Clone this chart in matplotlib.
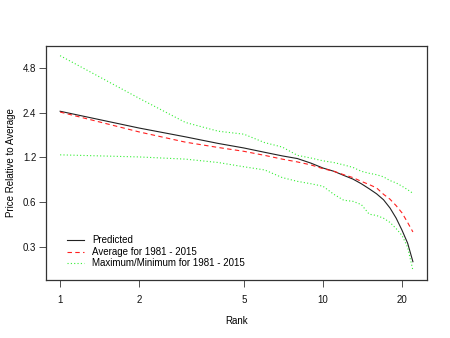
import matplotlib
matplotlib.use("Agg")
import matplotlib.pyplot as plt
from matplotlib.ticker import FixedLocator, NullLocator
import numpy as np

plt.rcParams['font.family'] = ['Liberation Sans', 'DejaVu Sans']

rank = [1, 2, 3, 4, 5, 6, 7, 8, 9, 10, 11, 12, 13, 14, 15, 16, 17, 18, 19, 20, 21, 22]
predicted = [2.45, 1.89, 1.65, 1.49, 1.39, 1.30, 1.23, 1.18, 1.10, 1.02, 0.97, 0.91,
             0.86, 0.80, 0.74, 0.685, 0.625, 0.55, 0.47, 0.39, 0.32, 0.24]
average = [2.42, 1.78, 1.52, 1.40, 1.32, 1.24, 1.17, 1.12, 1.07, 1.01, 0.97, 0.92,
           0.88, 0.83, 0.79, 0.75, 0.68, 0.63, 0.57, 0.51, 0.44, 0.38]
maximum = [5.78, 2.99, 2.06, 1.80, 1.72, 1.51, 1.41, 1.24, 1.19, 1.14, 1.11, 1.07,
           1.03, 0.97, 0.94, 0.92, 0.89, 0.84, 0.81, 0.77, 0.73, 0.69]
minimum = [1.25, 1.21, 1.17, 1.11, 1.04, 0.99, 0.88, 0.83, 0.80, 0.77, 0.68, 0.62,
           0.61, 0.58, 0.50, 0.49, 0.47, 0.44, 0.40, 0.36, 0.30, 0.21]

x_ticks = [1, 2, 5, 10, 20]
y_ticks = [0.3, 0.6, 1.2, 2.4, 4.8]
legend_labels = ["Predicted", "Average for 1981 - 2015", "Maximum/Minimum for 1981 - 2015"]

fig = plt.figure(figsize=(4.5, 3.38), dpi=100)
ax = fig.add_axes([46/450, 1-280/338, (427-46)/450, (280-46)/338])

lw = 0.8
l1, = ax.plot(rank, predicted, color='#222222', lw=lw)
l2, = ax.plot(rank, average, color='#FF2020', lw=lw, dashes=(4, 3))
l3, = ax.plot(rank, maximum, color='#33EE33', lw=lw, dashes=(1, 2))
ax.plot(rank, minimum, color='#33EE33', lw=lw, dashes=(1, 2))

ax.set_xscale('log')
ax.set_yscale('log')
ax.set_xlim(10**-0.0537, 10**1.396)
ax.set_ylim(0.181, 6.71)

ax.xaxis.set_major_locator(FixedLocator(x_ticks))
ax.xaxis.set_minor_locator(NullLocator())
ax.set_xticklabels([str(t) for t in x_ticks])
ax.yaxis.set_major_locator(FixedLocator(y_ticks))
ax.yaxis.set_minor_locator(NullLocator())
ax.set_yticklabels([str(t) for t in y_ticks])

ax.tick_params(axis='both', which='major', labelsize=7, length=5, width=0.6,
               color='#333333', labelcolor='#111111')
ax.tick_params(axis='x', pad=6)
ax.tick_params(axis='y', pad=2)
for s in ax.spines.values():
    s.set_linewidth(0.9)
    s.set_color('#333333')

ax.set_xlabel("Rank", fontsize=7, labelpad=8)
ax.set_ylabel("Price Relative to Average", fontsize=7, labelpad=5)

leg = ax.legend([l1, l2, l3], legend_labels, loc='lower left', frameon=False,
                fontsize=7, handlelength=1.75, handletextpad=0.8, labelspacing=0.15,
                bbox_to_anchor=(0.045, 0.033), borderaxespad=0)

fig.savefig("out.png", dpi=100)
